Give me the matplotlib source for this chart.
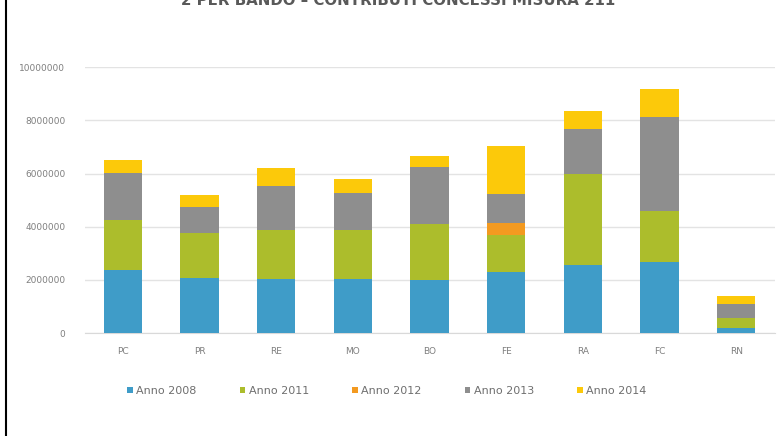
import matplotlib.pyplot as plt
import numpy as np
from matplotlib.lines import Line2D

province = ["PC", "PR", "RE", "MO", "BO", "FE", "RA", "FC", "RN"]
anno_2008 = [2370000, 2080000, 2050000, 2030000, 1990000, 2310000, 2560000, 2660000, 200000]
anno_2011 = [1880000, 1690000, 1820000, 1840000, 2130000, 1370000, 3420000, 1940000, 350000]
anno_2012 = [0, 0, 0, 0, 0, 470000, 0, 0, 0]
anno_2013 = [1780000, 980000, 1660000, 1380000, 2110000, 1080000, 1690000, 3530000, 540000]
anno_2014 = [470000, 440000, 660000, 560000, 420000, 1810000, 680000, 1030000, 300000]

serie = ["Anno 2008", "Anno 2011", "Anno 2012", "Anno 2013", "Anno 2014"]
colori = ["#3f9cc8", "#acbd2c", "#f39a20", "#8e8e8e", "#fcc90a"]
yticks = [0, 2000000, 4000000, 6000000, 8000000, 10000000]

fig = plt.figure(figsize=(7.84, 4.36), dpi=100)
ax = fig.add_axes([0.108, 0.236, 0.880, 0.610])

x = np.arange(len(province))
bottom = np.zeros(len(province))
for nome, valori, col in zip(serie, [anno_2008, anno_2011, anno_2012, anno_2013, anno_2014], colori):
    valori = np.array(valori)
    ax.bar(x, valori, 0.5, bottom=bottom, color=col, label=nome, zorder=3)
    bottom += valori

ax.set_xlim(-0.5, len(province) - 0.5)
ax.set_ylim(0, 10000000)
ax.set_yticks(yticks)
ax.set_yticklabels([str(v) for v in yticks])
ax.set_xticks(x)
ax.set_xticklabels(province)
ax.tick_params(axis="both", length=0, labelsize=6.5, colors="#7f7f7f")
ax.tick_params(axis="y", pad=14)
ax.tick_params(axis="x", pad=10)
ax.grid(axis="y", color="#e3e3e3", linewidth=1, zorder=0)
for s in ["top", "right", "left"]:
    ax.spines[s].set_visible(False)
ax.spines["bottom"].set_color("#d9d9d9")

ax.legend(loc="upper center", bbox_to_anchor=(0.438, -0.16), ncol=5, frameon=False,
          fontsize=8, labelcolor="#6f6f6f", handlelength=0.5, handleheight=0.5,
          handletextpad=0.3, columnspacing=3.9)

# titolo tagliato in alto come nell'originale
fig.text(0.508, 1 - 5 / 436, "2 PER BANDO \u2013 CONTRIBUTI CONCESSI MISURA 211",
         ha="center", va="baseline", fontsize=10.8, fontweight="bold", color="#595959")

fig.add_artist(Line2D([0.008, 0.008], [0, 1], transform=fig.transFigure,
                      color="black", linewidth=1.5))

fig.savefig("out.png", dpi=100)
